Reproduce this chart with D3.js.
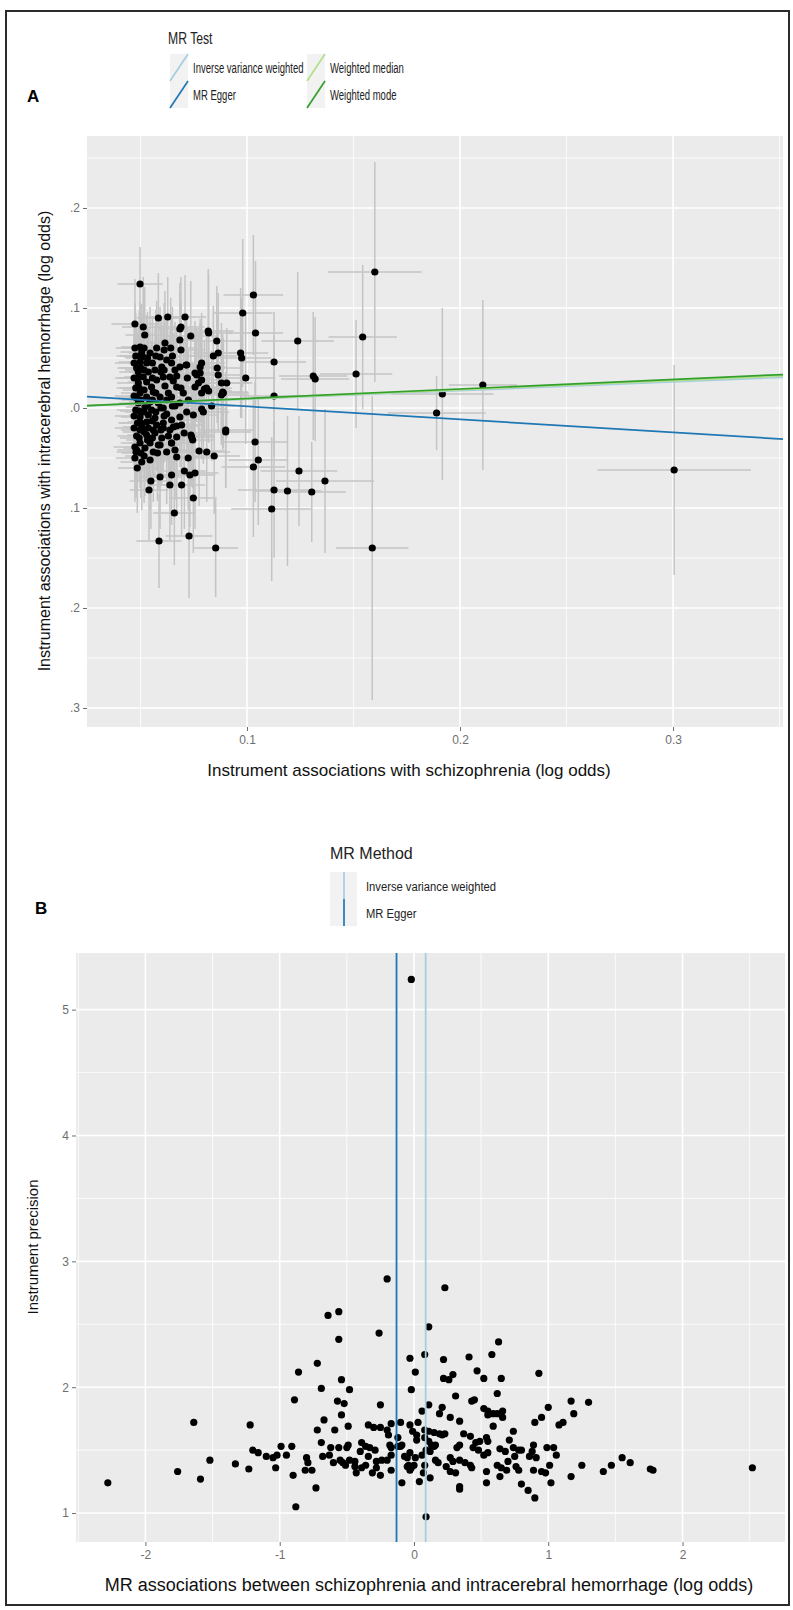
<!DOCTYPE html>
<html>
<head>
<meta charset="utf-8">
<script src="https://cdn.jsdelivr.net/npm/d3@7.9.0/dist/d3.min.js"></script>
<style>
  body { margin: 0; background: #fff; }
  svg text { font-family: "Liberation Sans", Arial, sans-serif; }
</style>
</head>
<body>
<svg id="fig" width="793" height="1610"></svg>
<script>
// legend / method info
const methodsA = ['Inverse variance weighted', 'MR Egger', 'Weighted median', 'Weighted mode'];
const methodColors = ['#a6cee3', '#1f78b4', '#b2df8a', '#33a02c'];
const interceptsA = [0, 0.0146, 0, 0];
const slopesA = [0.087, -0.13, 0.091, 0.0952];

// axis ticks, panel A
const xTicksA = [0.1, 0.2, 0.3];
const xTickLabelsA = ['0.1', '0.2', '0.3'];
const yTicksA = [0.2, 0.1, 0, -0.1, -0.2, -0.3];
const yTickLabelsA = ['.2', '.1', '.0', '.1', '.2', '.3'];

// SNP effects: [beta exposure, beta outcome, se exposure, se outcome]
const snpA = [
  [0.0498, 0.124, 0.0106, 0.037], [0.0474, 0.084, 0.011, 0.045], [0.0513, 0.081, 0.010, 0.050],
  [0.052, 0.073, 0.009, 0.048], [0.0584, 0.090, 0.010, 0.045], [0.0628, 0.091, 0.011, 0.040],
  [0.0709, 0.091, 0.010, 0.042], [0.069, 0.081, 0.011, 0.050], [0.0685, 0.079, 0.010, 0.046],
  [0.0736, 0.072, 0.012, 0.055], [0.0615, 0.065, 0.010, 0.052], [0.0642, 0.060, 0.011, 0.050],
  [0.0685, 0.068, 0.010, 0.048], [0.0818, 0.077, 0.012, 0.062], [0.082, 0.075, 0.011, 0.058],
  [0.0858, 0.067, 0.012, 0.055], [0.0865, 0.055, 0.012, 0.060], [0.0842, 0.052, 0.011, 0.050],
  [0.086, 0.040, 0.012, 0.055], [0.0787, 0.045, 0.011, 0.050], [0.078, 0.041, 0.012, 0.048],
  [0.0714, 0.043, 0.010, 0.052], [0.0764, 0.033, 0.011, 0.047], [0.078, 0.035, 0.010, 0.050],
  [0.0787, 0.028, 0.012, 0.046], [0.0756, 0.021, 0.011, 0.050], [0.080, 0.019, 0.012, 0.048],
  [0.082, 0.017, 0.011, 0.052], [0.088, 0.025, 0.013, 0.060], [0.0905, 0.025, 0.012, 0.055],
  [0.0886, 0.016, 0.012, 0.058], [0.088, 0.013, 0.013, 0.050], [0.0834, 0.002, 0.011, 0.055],
  [0.0787, -0.001, 0.011, 0.050], [0.0795, -0.004, 0.012, 0.052], [0.090, -0.022, 0.013, 0.058],
  [0.098, 0.095, 0.014, 0.074], [0.103, 0.113, 0.014, 0.060], [0.104, 0.075, 0.013, 0.072],
  [0.097, 0.055, 0.013, 0.065], [0.0975, 0.050, 0.014, 0.060], [0.0994, 0.030, 0.014, 0.066],
  [0.1127, 0.046, 0.015, 0.050], [0.1127, 0.012, 0.016, 0.060], [0.1238, 0.067, 0.017, 0.069],
  [0.1311, 0.032, 0.016, 0.064], [0.132, 0.029, 0.016, 0.062], [0.1512, 0.034, 0.017, 0.054],
  [0.1543, 0.071, 0.016, 0.072], [0.160, 0.136, 0.022, 0.110], [0.2107, 0.023, 0.016, 0.085],
  [0.1917, 0.014, 0.024, 0.086], [0.189, -0.005, 0.023, 0.037], [0.3005, -0.062, 0.036, 0.105],
  [0.090, -0.024, 0.012, 0.055], [0.1038, -0.034, 0.015, 0.060], [0.1053, -0.052, 0.014, 0.065],
  [0.103, -0.059, 0.015, 0.070], [0.1244, -0.063, 0.018, 0.055], [0.1366, -0.073, 0.023, 0.072],
  [0.1127, -0.082, 0.017, 0.068], [0.119, -0.083, 0.016, 0.075], [0.1304, -0.084, 0.016, 0.050],
  [0.1116, -0.101, 0.019, 0.072], [0.1588, -0.140, 0.017, 0.152], [0.0853, -0.140, 0.0105, 0.049],
  [0.0728, -0.128, 0.011, 0.062], [0.0587, -0.133, 0.0106, 0.047], [0.0659, -0.105, 0.010, 0.052],
  [0.0748, -0.090, 0.011, 0.055], [0.054, -0.082, 0.009, 0.050], [0.0549, -0.073, 0.010, 0.048],
  [0.0592, -0.069, 0.010, 0.052], [0.0646, -0.067, 0.011, 0.050], [0.0638, -0.077, 0.010, 0.055],
  [0.0693, -0.077, 0.011, 0.050], [0.0706, -0.063, 0.010, 0.058], [0.0732, -0.067, 0.012, 0.052],
  [0.0756, -0.065, 0.011, 0.056], [0.0485, -0.060, 0.009, 0.045], [0.0506, -0.054, 0.010, 0.048],
  [0.0545, -0.052, 0.009, 0.050], [0.0474, -0.039, 0.010, 0.044], [0.0479, -0.044, 0.009, 0.046],
  [0.0521, -0.040, 0.010, 0.048], [0.056, -0.044, 0.009, 0.050], [0.0584, -0.037, 0.010, 0.046],
  [0.0623, -0.044, 0.010, 0.052], [0.0646, -0.035, 0.011, 0.048], [0.0662, -0.042, 0.010, 0.050],
  [0.067, -0.049, 0.011, 0.054], [0.0724, -0.050, 0.011, 0.052], [0.0775, -0.043, 0.012, 0.055],
  [0.0811, -0.044, 0.011, 0.050], [0.0846, -0.048, 0.012, 0.058], [0.0737, -0.027, 0.011, 0.050],
  [0.0745, -0.032, 0.010, 0.048], [0.0506, -0.019, 0.009, 0.045], [0.0537, -0.020, 0.010, 0.048],
  [0.056, -0.022, 0.009, 0.046], [0.0607, -0.020, 0.010, 0.050], [0.0654, -0.019, 0.010, 0.048],
  [0.0693, -0.017, 0.011, 0.052], [0.0482, -0.042, 0.009, 0.044],
  [0.0498, 0.061, 0.009, 0.045], [0.0506, 0.056, 0.010, 0.048], [0.0513, 0.051, 0.009, 0.044],
  [0.0498, 0.046, 0.010, 0.046], [0.0529, 0.045, 0.009, 0.048], [0.0592, 0.051, 0.010, 0.050],
  [0.0623, 0.048, 0.010, 0.046], [0.060, 0.041, 0.009, 0.048], [0.0568, 0.038, 0.010, 0.044],
  [0.0646, 0.045, 0.010, 0.050], [0.0662, 0.038, 0.011, 0.048], [0.0685, 0.041, 0.010, 0.052],
  [0.0638, 0.031, 0.010, 0.046], [0.049, 0.036, 0.009, 0.044], [0.0513, 0.031, 0.009, 0.046],
  [0.049, 0.025, 0.010, 0.045], [0.0529, 0.026, 0.009, 0.048], [0.0552, 0.021, 0.010, 0.046],
  [0.0576, 0.028, 0.009, 0.044], [0.0607, 0.031, 0.010, 0.048], [0.0717, 0.043, 0.011, 0.050],
  [0.0756, 0.035, 0.011, 0.052], [0.0772, 0.025, 0.011, 0.050], [0.081, 0.020, 0.012, 0.054],
  [0.0787, 0.015, 0.011, 0.050], [0.0865, 0.033, 0.012, 0.056], [0.0889, 0.015, 0.012, 0.055],
  [0.067, 0.021, 0.010, 0.048], [0.0701, 0.015, 0.011, 0.050], [0.0646, 0.011, 0.010, 0.046],
  [0.0685, 0.005, 0.010, 0.048], [0.0623, 0.008, 0.010, 0.046], [0.0498, 0.015, 0.009, 0.044],
  [0.0529, 0.011, 0.009, 0.046], [0.056, 0.016, 0.010, 0.045], [0.0592, 0.011, 0.010, 0.048],
  [0.049, 0.005, 0.009, 0.044], [0.0521, 0.001, 0.009, 0.046], [0.0552, -0.002, 0.010, 0.045],
  [0.0584, 0.005, 0.010, 0.047], [0.0607, 0.000, 0.010, 0.048], [0.0498, -0.009, 0.009, 0.044],
  [0.0529, -0.014, 0.009, 0.046], [0.0568, -0.010, 0.010, 0.045], [0.0607, -0.015, 0.010, 0.048],
  [0.0646, -0.012, 0.010, 0.047], [0.0685, -0.009, 0.011, 0.050], [0.0717, -0.004, 0.011, 0.048],
  [0.0748, -0.007, 0.011, 0.050], [0.0498, -0.022, 0.009, 0.044], [0.0529, -0.027, 0.009, 0.046],
  [0.0568, -0.025, 0.010, 0.045], [0.060, -0.030, 0.010, 0.048], [0.0638, -0.022, 0.010, 0.047],
  [0.067, -0.029, 0.011, 0.050], [0.0498, -0.035, 0.009, 0.045], [0.0545, -0.035, 0.010, 0.046],
  [0.0592, -0.037, 0.010, 0.048], [0.0646, -0.035, 0.010, 0.047], [0.074, -0.029, 0.011, 0.050],
  [0.0478, 0.052, 0.009, 0.043], [0.0482, 0.040, 0.009, 0.044], [0.0486, 0.030, 0.009, 0.045],
  [0.0478, 0.020, 0.009, 0.043], [0.0482, 0.010, 0.009, 0.044], [0.0478, -0.002, 0.009, 0.043],
  [0.0486, -0.015, 0.009, 0.045], [0.0482, -0.028, 0.009, 0.044], [0.0545, 0.055, 0.010, 0.046],
  [0.0537, 0.036, 0.009, 0.045], [0.0545, 0.006, 0.010, 0.046], [0.0537, -0.007, 0.009, 0.045],
  [0.0576, 0.060, 0.010, 0.047], [0.0576, -0.017, 0.010, 0.046], [0.0615, 0.022, 0.010, 0.048],
  [0.0623, -0.006, 0.010, 0.047], [0.0654, 0.027, 0.010, 0.048], [0.0662, 0.002, 0.010, 0.047],
  [0.0470, 0.045, 0.009, 0.043], [0.0470, 0.030, 0.009, 0.044], [0.0470, 0.012, 0.009, 0.043],
  [0.0470, -0.008, 0.009, 0.044], [0.0470, -0.020, 0.009, 0.043], [0.0474, 0.060, 0.009, 0.045],
  [0.0474, -0.050, 0.009, 0.044], [0.0494, 0.052, 0.009, 0.045], [0.0494, 0.020, 0.009, 0.044],
  [0.0494, -0.003, 0.009, 0.045], [0.0494, -0.030, 0.009, 0.044], [0.0502, 0.040, 0.010, 0.046],
  [0.0502, 0.008, 0.009, 0.045], [0.0502, -0.015, 0.010, 0.046], [0.0502, -0.045, 0.009, 0.045],
  [0.0517, 0.060, 0.010, 0.047], [0.0517, 0.038, 0.009, 0.045], [0.0517, 0.018, 0.010, 0.046],
  [0.0517, -0.004, 0.009, 0.045], [0.0517, -0.024, 0.010, 0.046], [0.0517, -0.048, 0.009, 0.047],
  [0.0533, 0.050, 0.010, 0.046], [0.0533, 0.003, 0.009, 0.045], [0.0533, -0.032, 0.010, 0.046],
  [0.0556, 0.045, 0.010, 0.047], [0.0556, 0.030, 0.009, 0.046], [0.0556, 0.008, 0.010, 0.045],
  [0.0556, -0.013, 0.010, 0.046], [0.0556, -0.030, 0.009, 0.047], [0.0572, 0.052, 0.010, 0.046],
  [0.0572, 0.015, 0.010, 0.047], [0.0572, -0.004, 0.010, 0.046], [0.0580, -0.045, 0.010, 0.048],
  [0.0596, 0.036, 0.010, 0.047], [0.0596, 0.000, 0.010, 0.046], [0.0596, -0.022, 0.010, 0.048],
  [0.0611, 0.058, 0.010, 0.047], [0.0611, 0.038, 0.010, 0.048], [0.0611, -0.008, 0.010, 0.047],
  [0.0631, 0.015, 0.010, 0.048], [0.0631, -0.028, 0.010, 0.047], [0.0650, 0.052, 0.011, 0.049],
  [0.0650, 0.002, 0.010, 0.048], [0.0670, 0.032, 0.011, 0.049], [0.0670, -0.018, 0.010, 0.048],
  [0.0690, 0.020, 0.011, 0.050], [0.0690, 0.058, 0.011, 0.049], [0.0705, -0.025, 0.011, 0.050],
  [0.0720, 0.030, 0.011, 0.050], [0.0725, 0.008, 0.011, 0.049]
];

// panel B
const methodsB = ['Inverse variance weighted', 'MR Egger'];
const colorsB = ['#a6cee3', '#1f78b4'];
const estimatesB = [0.087, -0.13];
const xTicksB = [-2, -1, 0, 1, 2];
const yTicksB = [1, 2, 3, 4, 5];

// [single-SNP MR estimate, instrument precision]
const snpB = [
  [-0.02, 5.24],
  [-0.20, 2.86], [0.23, 2.79], [-0.64, 2.57], [-0.56, 2.60], [-0.26, 2.43], [0.11, 2.48], [-0.56, 2.38],
  [0.63, 2.36], [-0.72, 2.19], [-0.86, 2.12], [-0.03, 2.23], [0.08, 2.26], [0.22, 2.22], [0.41, 2.24],
  [0.58, 2.26], [0.01, 2.12], [0.47, 2.13], [0.93, 2.11], [0.22, 2.07], [0.29, 2.10], [0.52, 2.07],
  [0.65, 2.07], [-0.54, 2.06], [0.26, 2.06],
  [-0.48, 1.98], [-0.69, 1.99], [-0.89, 1.90], [-0.57, 1.89], [-0.52, 1.87], [-0.25, 1.86], [-0.54, 1.78],
  [-0.02, 1.98], [0.06, 1.81], [0.11, 1.86],
  [-1.64, 1.72], [-1.22, 1.70], [-0.67, 1.74], [-0.72, 1.66], [-0.59, 1.66], [-0.49, 1.69], [-0.34, 1.70],
  [-0.30, 1.68], [-0.25, 1.68], [-0.20, 1.66], [-0.17, 1.71], [-0.19, 1.62], [-0.12, 1.60], [-0.03, 1.70],
  [0.03, 1.72], [-0.01, 1.65], [0.02, 1.62],
  [-0.69, 1.56], [-0.62, 1.52], [-0.56, 1.52], [-0.50, 1.52], [-0.49, 1.54], [-0.39, 1.56], [-0.36, 1.53],
  [-0.33, 1.52], [-0.29, 1.50], [-0.18, 1.54], [-0.17, 1.52], [-0.12, 1.53], [-0.09, 1.54],
  [-1.20, 1.50], [-1.16, 1.48], [-1.10, 1.45], [-1.05, 1.44], [-0.99, 1.53], [-0.91, 1.53], [-1.02, 1.46],
  [-0.95, 1.46], [-1.52, 1.42], [-1.33, 1.39], [-1.03, 1.36], [-1.23, 1.35], [-1.76, 1.33], [-1.59, 1.27],
  [-2.28, 1.24], [-0.90, 1.30],
  [-0.80, 1.44], [-0.79, 1.40], [-0.81, 1.34], [-0.76, 1.34], [-0.68, 1.45], [-0.60, 1.40], [-0.63, 1.46],
  [-0.53, 1.40], [-0.48, 1.42], [-0.44, 1.41], [-0.43, 1.32], [-0.39, 1.36], [-0.36, 1.38], [-0.31, 1.32],
  [-0.28, 1.36], [-0.24, 1.42], [-0.17, 1.34], [-0.05, 1.44], [-0.04, 1.38], [-0.02, 1.36], [-0.05, 1.37],
  [-0.73, 1.20], [-0.09, 1.24], [0.04, 1.25], [-0.88, 1.05], [0.09, 0.97], [0.08, 1.38], [0.07, 1.32],
  [0.62, 1.95], [0.31, 1.93], [0.43, 1.89], [0.45, 1.90], [1.17, 1.89], [1.30, 1.88], [0.21, 1.84],
  [0.19, 1.79], [0.27, 1.76], [0.34, 1.73], [0.52, 1.83], [0.55, 1.81], [0.55, 1.78], [0.59, 1.79],
  [0.62, 1.79], [0.66, 1.81], [0.66, 1.76], [0.59, 1.69], [1.00, 1.84], [0.95, 1.76], [0.90, 1.72],
  [1.08, 1.70], [1.11, 1.72], [1.19, 1.79], [-0.10, 1.72],
  [0.08, 1.66], [0.11, 1.65], [0.15, 1.64], [0.19, 1.63], [0.23, 1.63], [0.08, 1.60], [0.11, 1.57],
  [0.13, 1.54], [0.15, 1.53], [0.09, 1.50], [0.12, 1.49], [0.16, 1.54],
  [0.37, 1.63], [0.42, 1.61], [0.46, 1.56], [0.49, 1.57], [0.54, 1.60], [0.55, 1.57], [0.34, 1.54],
  [0.32, 1.52], [0.44, 1.52], [0.48, 1.50], [0.52, 1.46], [0.55, 1.48],
  [0.74, 1.65], [0.71, 1.58], [0.64, 1.51], [0.68, 1.49], [0.74, 1.52], [0.78, 1.50], [0.80, 1.50],
  [0.89, 1.54], [0.88, 1.49], [0.86, 1.45], [0.91, 1.44], [0.99, 1.52], [1.04, 1.52], [1.06, 1.46],
  [-0.10, 1.53], [-0.07, 1.45], [0.01, 1.44], [0.06, 1.46], [0.16, 1.42], [0.18, 1.40], [0.27, 1.44],
  [0.29, 1.41], [0.34, 1.42], [0.38, 1.40], [0.42, 1.38], [0.24, 1.37], [0.27, 1.33], [0.31, 1.32],
  [0.43, 1.36],
  [0.54, 1.33], [0.62, 1.38], [0.65, 1.36], [0.69, 1.34], [0.76, 1.37], [0.78, 1.34], [0.64, 1.29],
  [0.89, 1.34], [0.95, 1.33], [0.98, 1.32], [1.01, 1.38], [1.25, 1.38], [1.17, 1.29], [1.41, 1.33],
  [1.47, 1.38], [1.55, 1.44], [1.61, 1.40], [1.76, 1.35], [1.78, 1.34], [2.52, 1.36],
  [0.54, 1.24], [0.34, 1.21], [0.34, 1.19], [0.80, 1.23], [0.85, 1.18], [0.90, 1.12], [1.02, 1.24],
  [0.12, 1.28], [-0.03, 1.34], [0.00, 1.38],
  [-0.40, 1.49], [-0.17, 1.46], [-0.20, 1.42], [-0.28, 1.41], [-0.34, 1.45], [-0.51, 1.38], [-0.44, 1.37],
  [-0.25, 1.30], [-0.55, 1.42], [0.02, 1.58], [-0.03, 1.48], [0.21, 1.62], [0.75, 1.45], [0.70, 1.41]
];

const svg = d3.select('#fig');
const tickColor = '#6e6e6e';

// outer frame
svg.append('rect')
  .attr('x', 6).attr('y', 11).attr('width', 783).attr('height', 1594)
  .attr('fill', 'none').attr('stroke', '#2b2b2b').attr('stroke-width', 2);

// legend text in the source figure is horizontally condensed
function squeezedText(x, y, size, sx, str) {
  return svg.append('text')
    .attr('transform', `translate(${x},${y}) scale(${sx},1)`)
    .attr('font-size', size).attr('fill', '#222').text(str);
}

// shared panel drawing: background, grid, axes
function drawPanel(box, x, y, opt) {
  const g = svg.append('g');
  g.append('rect')
    .attr('x', box.left).attr('y', box.top)
    .attr('width', box.right - box.left).attr('height', box.bottom - box.top)
    .attr('fill', '#ebebeb');

  opt.xMinor.forEach(v => g.append('line')
    .attr('x1', x(v)).attr('x2', x(v)).attr('y1', box.top).attr('y2', box.bottom)
    .attr('stroke', '#fff').attr('stroke-width', 0.8));
  opt.yMinor.forEach(v => g.append('line')
    .attr('y1', y(v)).attr('y2', y(v)).attr('x1', box.left).attr('x2', box.right)
    .attr('stroke', '#fff').attr('stroke-width', 0.8));
  opt.xTicks.forEach(v => g.append('line')
    .attr('x1', x(v)).attr('x2', x(v)).attr('y1', box.top).attr('y2', box.bottom)
    .attr('stroke', '#fff').attr('stroke-width', 1.6));
  opt.yTicks.forEach(v => g.append('line')
    .attr('y1', y(v)).attr('y2', y(v)).attr('x1', box.left).attr('x2', box.right)
    .attr('stroke', '#fff').attr('stroke-width', 1.6));

  const xAxis = svg.append('g')
    .attr('transform', `translate(0,${box.bottom})`)
    .call(d3.axisBottom(x).tickValues(opt.xTicks).tickFormat((d, i) => opt.xLabels[i]).tickSize(4).tickPadding(4));
  const yAxis = svg.append('g')
    .attr('transform', `translate(${box.left},0)`)
    .call(d3.axisLeft(y).tickValues(opt.yTicks).tickFormat((d, i) => opt.yLabels[i]).tickSize(4).tickPadding(3));
  [xAxis, yAxis].forEach(a => {
    a.select('.domain').remove();
    a.selectAll('line').attr('stroke', tickColor).attr('stroke-width', 1);
    a.selectAll('text').attr('fill', tickColor).attr('font-size', 12)
      .attr('font-family', '"Liberation Sans", Arial, sans-serif');
  });

  svg.append('text')
    .attr('x', opt.xTitleX).attr('y', opt.xTitleY)
    .attr('text-anchor', 'middle').attr('font-size', opt.xTitleSize).attr('fill', '#111')
    .text(opt.xTitle);
  svg.append('text')
    .attr('transform', `translate(${opt.yTitleX},${opt.yTitleMid}) rotate(-90)`)
    .attr('text-anchor', 'middle').attr('font-size', opt.yTitleSize).attr('fill', '#111')
    .text(opt.yTitle);
  return g;
}

// ---------- Panel A ----------
const boxA = { left: 87, right: 783, top: 136, bottom: 727 };
const xA = d3.scaleLinear().domain([0.0249, 0.3516]).range([boxA.left, boxA.right]);
const yA = d3.scaleLinear().domain([-0.319, 0.272]).range([boxA.bottom, boxA.top]);

drawPanel(boxA, xA, yA, {
  xTicks: xTicksA, xLabels: xTickLabelsA, yTicks: yTicksA, yLabels: yTickLabelsA,
  xMinor: [0.05, 0.15, 0.25, 0.35], yMinor: [0.25, 0.15, 0.05, -0.05, -0.15, -0.25],
  xTitle: 'Instrument associations with schizophrenia (log odds)', xTitleX: 409, xTitleY: 776, xTitleSize: 17,
  yTitle: 'Instrument associations with intracerebral hemorrhage (log odds)',
  yTitleX: 50, yTitleMid: 441, yTitleSize: 16
});

svg.append('clipPath').attr('id', 'clipA').append('rect')
  .attr('x', boxA.left).attr('y', boxA.top)
  .attr('width', boxA.right - boxA.left).attr('height', boxA.bottom - boxA.top);
const plotA = svg.append('g').attr('clip-path', 'url(#clipA)');

// error bars
plotA.selectAll('.vbar').data(snpA).join('line')
  .attr('x1', d => xA(d[0])).attr('x2', d => xA(d[0]))
  .attr('y1', d => yA(d[1] + d[3])).attr('y2', d => yA(d[1] - d[3]))
  .attr('stroke', '#c4c4c4').attr('stroke-width', 1.5);
plotA.selectAll('.hbar').data(snpA).join('line')
  .attr('y1', d => yA(d[1])).attr('y2', d => yA(d[1]))
  .attr('x1', d => xA(d[0] - d[2])).attr('x2', d => xA(d[0] + d[2]))
  .attr('stroke', '#c4c4c4').attr('stroke-width', 1.5);
plotA.selectAll('circle').data(snpA).join('circle')
  .attr('cx', d => xA(d[0])).attr('cy', d => yA(d[1])).attr('r', 3.6)
  .attr('fill', '#000');

// method lines
const [dx0, dx1] = xA.domain();
methodsA.forEach((m, i) => {
  plotA.append('line')
    .attr('x1', xA(dx0)).attr('y1', yA(interceptsA[i] + slopesA[i] * dx0))
    .attr('x2', xA(dx1)).attr('y2', yA(interceptsA[i] + slopesA[i] * dx1))
    .attr('stroke', methodColors[i]).attr('stroke-width', 1.7);
});

// legend A
svg.append('text').attr('x', 27).attr('y', 102).attr('font-size', 17)
  .attr('font-weight', 'bold').text('A');
squeezedText(168, 44, 16.5, 0.74, 'MR Test');
methodsA.forEach((m, i) => {
  const col = Math.floor(i / 2), row = i % 2;
  const kx = 170 + col * 137, ky = 54 + row * 27;
  svg.append('rect').attr('x', kx).attr('y', ky).attr('width', 18).attr('height', 27)
    .attr('fill', '#f2f2f2');
  svg.append('line')
    .attr('x1', kx).attr('y1', ky + 27).attr('x2', kx + 18).attr('y2', ky)
    .attr('stroke', methodColors[i]).attr('stroke-width', 1.7);
  squeezedText(kx + 23, ky + 19, 14, 0.68, m);
});

// ---------- Panel B ----------
const boxB = { left: 76, right: 785, top: 953, bottom: 1542 };
const xB = d3.scaleLinear().domain([-2.517, 2.763]).range([boxB.left, boxB.right]);
const yB = d3.scaleLinear().domain([0.77, 5.45]).range([boxB.bottom, boxB.top]);

drawPanel(boxB, xB, yB, {
  xTicks: xTicksB, xLabels: xTicksB.map(String), yTicks: yTicksB, yLabels: yTicksB.map(String),
  xMinor: [-2.5, -1.5, -0.5, 0.5, 1.5, 2.5], yMinor: [1.5, 2.5, 3.5, 4.5],
  xTitle: 'MR associations between schizophrenia and intracerebral hemorrhage (log odds)',
  xTitleX: 429, xTitleY: 1591, xTitleSize: 18,
  yTitle: 'Instrument precision', yTitleX: 38, yTitleMid: 1247, yTitleSize: 15
});

const plotB = svg.append('g');
plotB.selectAll('circle').data(snpB).join('circle')
  .attr('cx', d => xB(d[0])).attr('cy', d => yB(d[1])).attr('r', 3.6)
  .attr('fill', '#000');
estimatesB.forEach((v, i) => {
  plotB.append('line')
    .attr('x1', xB(v)).attr('x2', xB(v)).attr('y1', boxB.top).attr('y2', boxB.bottom)
    .attr('stroke', colorsB[i]).attr('stroke-width', 1.8);
});

// legend B
svg.append('text').attr('x', 35).attr('y', 914).attr('font-size', 17)
  .attr('font-weight', 'bold').text('B');
svg.append('text').attr('x', 330).attr('y', 859).attr('font-size', 16).attr('fill', '#222')
  .text('MR Method');
methodsB.forEach((m, i) => {
  const kx = 330, ky = 872 + i * 27;
  svg.append('rect').attr('x', kx).attr('y', ky).attr('width', 27).attr('height', 27)
    .attr('fill', '#f2f2f2');
  svg.append('line')
    .attr('x1', kx + 14).attr('x2', kx + 14).attr('y1', ky).attr('y2', ky + 27)
    .attr('stroke', colorsB[i]).attr('stroke-width', 1.7);
  squeezedText(kx + 36, ky + 19, 13.5, 0.83, m);
});
</script>
</body>
</html>
